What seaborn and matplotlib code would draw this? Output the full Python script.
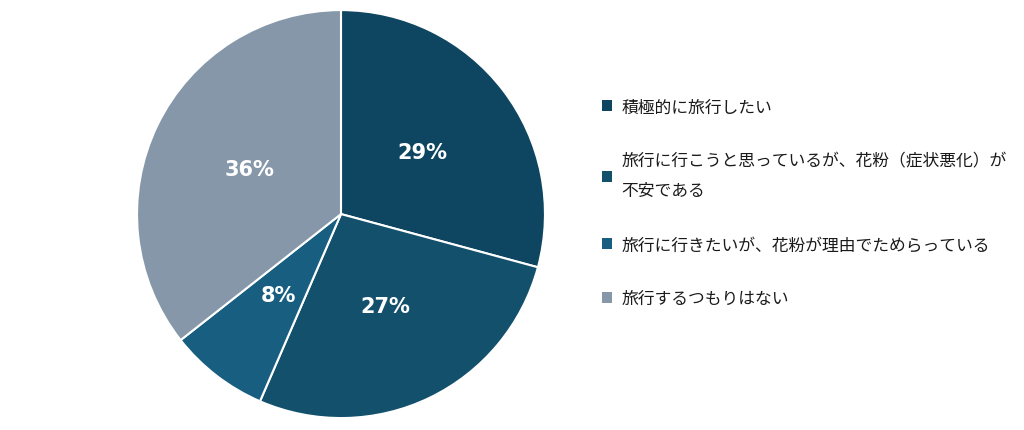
import matplotlib.pyplot as plt
import seaborn as sns
from matplotlib.patches import Patch

# --- data ---
labels = [
    "積極的に旅行したい",
    "旅行に行こうと思っているが、花粉（症状悪化）が\n不安である",
    "旅行に行きたいが、花粉が理由でためらっている",
    "旅行するつもりはない",
]
values = [29.2, 27.3, 7.9, 35.6]
colors = ["#0e4560", "#12506c", "#175e80", "#8597a9"]

sns.set_theme(style="white")
plt.rcParams['font.family'] = ['Noto Sans CJK JP', 'DejaVu Sans']

fig = plt.figure(figsize=(10.24, 4.31), dpi=100)
ax = fig.add_axes([0.1338, 0.0277, 0.3984, 0.9466])

wedges, _, autotexts = ax.pie(
    values, colors=colors, startangle=90, counterclock=False,
    autopct=lambda p: f"{p:.0f}%", pctdistance=0.5,
    wedgeprops=dict(edgecolor="white", linewidth=1.5),
    textprops=dict(color="white", fontsize=15, fontweight="bold", family="DejaVu Sans"),
)
ax.set_xlim(-1, 1)
ax.set_ylim(-1, 1)
ax.set_aspect("equal")

handles = [Patch(facecolor=c, edgecolor="none") for c in colors]
leg = fig.legend(handles, labels, loc="center left", bbox_to_anchor=(0.580, 0.527),
                 frameon=False, fontsize=12.1, labelspacing=2.2,
                 handlelength=0.6, handleheight=0.6, handletextpad=0.55, borderpad=0)
for t in leg.get_texts():
    t.set_color("#1a1a1a")
    t.set_linespacing(2.0)

fig.savefig("out.png", dpi=100)
